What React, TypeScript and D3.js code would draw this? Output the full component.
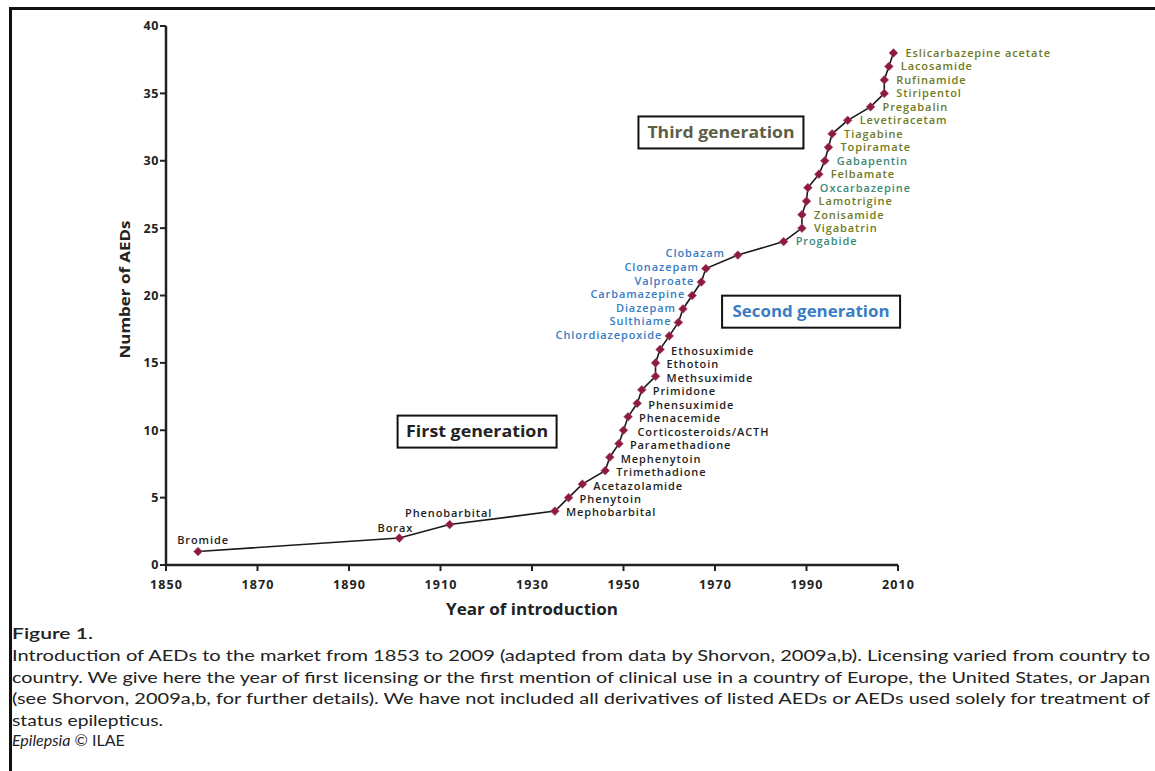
import React from 'react';
import * as d3 from 'd3';

const drugNames = [
  'Bromide', 'Borax', 'Phenobarbital', 'Mephobarbital', 'Phenytoin', 'Acetazolamide',
  'Trimethadione', 'Mephenytoin', 'Paramethadione', 'Corticosteroids/ACTH', 'Phenacemide',
  'Phensuximide', 'Primidone', 'Methsuximide', 'Ethotoin', 'Ethosuximide',
  'Chlordiazepoxide', 'Sulthiame', 'Diazepam', 'Carbamazepine', 'Valproate', 'Clonazepam', 'Clobazam',
  'Progabide', 'Vigabatrin', 'Zonisamide', 'Lamotrigine', 'Oxcarbazepine', 'Felbamate', 'Gabapentin',
  'Topiramate', 'Tiagabine', 'Levetiracetam', 'Pregabalin', 'Stiripentol', 'Rufinamide', 'Lacosamide',
  'Eslicarbazepine acetate',
];
const introYears = [
  1857, 1901, 1912, 1935, 1938, 1941,
  1946, 1947, 1949, 1950, 1951,
  1953, 1954, 1957, 1957, 1958,
  1960, 1962, 1963, 1965, 1967, 1968, 1975,
  1985, 1989, 1989, 1990, 1990.3, 1992.7, 1994,
  1994.8, 1995.6, 1999, 2004, 2007, 2007, 2008,
  2009,
];
const aedCounts = [
  1, 2, 3, 4, 5, 6, 7, 8, 9, 10, 11, 12, 13, 14, 15, 16,
  17, 18, 19, 20, 21, 22, 23,
  24, 25, 26, 27, 28, 29, 30, 31, 32, 33, 34, 35, 36, 37, 38,
];
const generations = [
  1, 1, 1, 1, 1, 1, 1, 1, 1, 1, 1, 1, 1, 1, 1, 1,
  2, 2, 2, 2, 2, 2, 2,
  3, 3, 3, 3, 3, 3, 3, 3, 3, 3, 3, 3, 3, 3, 3,
];
const xTickValues = [1850, 1870, 1890, 1910, 1930, 1950, 1970, 1990, 2010];
const yTickValues = [0, 5, 10, 15, 20, 25, 30, 35, 40];

const genBoxLabels = ['First generation', 'Second generation', 'Third generation'];
const genBoxYears = [1918, 1991, 1971.3];
const genBoxCounts = [9.9, 18.8, 32.1];

const captionTitle = 'Figure 1.';
const captionLines = [
  'Introduction of AEDs to the market from 1853 to 2009 (adapted from data by Shorvon, 2009a,b). Licensing varied from country to',
  'country. We give here the year of first licensing or the first mention of clinical use in a country of Europe, the United States, or Japan',
  '(see Shorvon, 2009a,b, for further details). We have not included all derivatives of listed AEDs or AEDs used solely for treatment of',
  'status epilepticus.',
];

// styling / layout (not data)
const W = 1155;
const H = 771;
const genColors: Record<number, string> = { 1: '#1e1e1e', 2: '#3a7cc4', 3: '#6f7a22' };
const genBoxText: Record<number, string> = { 1: '#222', 2: '#3a7cc4', 3: '#5e5e48' };
const genBoxW = [159, 178, 165];
const genBoxTextW = [142, 157, 147];
const tealNames = new Set(['Progabide', 'Oxcarbazepine', 'Gabapentin']);
const labelFont = "'Open Sans', 'DejaVu Sans', sans-serif";

function labelPlacement(name: string, gen: number) {
  if (name === 'Bromide') return { dx: 5, dy: -11, anchor: 'middle' };
  if (name === 'Borax') return { dx: -4, dy: -10, anchor: 'middle' };
  if (name === 'Phenobarbital') return { dx: -1, dy: -11, anchor: 'middle' };
  if (name === 'Clobazam') return { dx: -13, dy: -2, anchor: 'end' };
  if (gen === 2) return { dx: -7, dy: -1, anchor: 'end' };
  if (name === 'Corticosteroids/ACTH') return { dx: 14, dy: 1.5, anchor: 'start' };
  if (gen === 1) return { dx: 11, dy: 1.5, anchor: 'start' };
  return { dx: 12, dy: 0, anchor: 'start' };
}

export default function App() {
  const x = d3.scaleLinear().domain([1850, 2010]).range([166, 898]);
  const y = d3.scaleLinear().domain([0, 40]).range([565, 26]);

  const pts = introYears.map((yr, i) => ({
    name: drugNames[i],
    year: yr,
    count: aedCounts[i],
    gen: generations[i],
  }));

  const linePath = d3
    .line<{ year: number; count: number }>()
    .x((d) => x(d.year))
    .y((d) => y(d.count))(pts) as string;

  const marker = d3.symbol().type(d3.symbolSquare).size(38)() as string;

  return (
    <svg
      width={W}
      height={H}
      viewBox={`0 0 ${W} ${H}`}
      style={{ position: 'absolute', left: 0, top: 0, background: '#fff' }}
    >
      <rect x={0} y={0} width={W} height={H} fill="#fff" />
      {/* frame */}
      <line x1={10} y1={8.5} x2={W} y2={8.5} stroke="#111" strokeWidth={3} />
      <line x1={10.5} y1={7} x2={10.5} y2={H} stroke="#111" strokeWidth={3} />

      {/* axes */}
      <line x1={x(1850)} y1={y(0)} x2={x(2010)} y2={y(0)} stroke="#222" strokeWidth={2.5} />
      <line x1={x(1850)} y1={y(0) + 1} x2={x(1850)} y2={y(40)} stroke="#222" strokeWidth={2.5} />
      {yTickValues.map((v) => (
        <g key={'yt' + v}>
          <line x1={x(1850) - 6} x2={x(1850)} y1={y(v)} y2={y(v)} stroke="#222" strokeWidth={2} />
          <text
            x={x(1850) - 7}
            y={y(v)}
            dy="0.35em"
            textAnchor="end"
            fontFamily={labelFont}
            fontWeight={700}
            fontSize={12.5}
            letterSpacing={0.6}
            fill="#222"
          >
            {v}
          </text>
        </g>
      ))}
      {xTickValues.map((v) => (
        <g key={'xt' + v}>
          <line x1={x(v)} x2={x(v)} y1={y(0)} y2={y(0) + 6} stroke="#222" strokeWidth={2} />
          <text
            x={x(v)}
            y={y(0) + 24}
            textAnchor="middle"
            fontFamily={labelFont}
            fontWeight={700}
            fontSize={12.5}
            textLength={32}
            lengthAdjust="spacing"
            fill="#222"
          >
            {v}
          </text>
        </g>
      ))}
      <text
        x={(x(1850) + x(2010)) / 2}
        y={615}
        textAnchor="middle"
        fontFamily={labelFont}
        fontWeight={700}
        fontSize={16}
        fill="#222"
        textLength={172}
        lengthAdjust="spacingAndGlyphs"
      >
        Year of introduction
      </text>
      <text
        transform={`translate(130, ${(y(0) + y(40)) / 2 - 6}) rotate(-90)`}
        textAnchor="middle"
        fontFamily={labelFont}
        fontWeight={700}
        fontSize={15}
        fill="#222"
        textLength={138}
        lengthAdjust="spacingAndGlyphs"
      >
        Number of AEDs
      </text>

      {/* generation boxes */}
      {genBoxLabels.map((lab, i) => {
        const cx = x(genBoxYears[i]);
        const cy = y(genBoxCounts[i]);
        return (
          <g key={lab}>
            <rect
              x={cx - genBoxW[i] / 2}
              y={cy - 16}
              width={genBoxW[i]}
              height={32}
              fill="#fff"
              stroke="#111"
              strokeWidth={2}
            />
            <text
              x={cx}
              y={cy}
              dy="0.36em"
              textAnchor="middle"
              fontFamily={labelFont}
              fontWeight={700}
              fontSize={16}
              fill={genBoxText[i + 1]}
              textLength={genBoxTextW[i]}
              lengthAdjust="spacingAndGlyphs"
            >
              {lab}
            </text>
          </g>
        );
      })}

      {/* line */}
      <path d={linePath} fill="none" stroke="#1a1a1a" strokeWidth={1.6} />
      {pts.map((p, i) => (
        <path
          key={'m' + i}
          d={marker}
          transform={`translate(${x(p.year)},${y(p.count)}) rotate(45)`}
          fill="#8c1a42"
          stroke="#b0506e"
          strokeWidth={0.6}
        />
      ))}

      {/* drug labels */}
      {pts.map((p, i) => {
        const pl = labelPlacement(p.name, p.gen);
        const color = tealNames.has(p.name) ? '#3d8a78' : genColors[p.gen];
        return (
          <text
            key={'l' + i}
            x={x(p.year) + pl.dx}
            y={y(p.count) + pl.dy}
            dy="0.35em"
            textAnchor={pl.anchor as any}
            fontFamily={labelFont}
            fontWeight={600}
            fontSize={11}
            letterSpacing={0.9}
            fill={color}
          >
            {p.name}
          </text>
        );
      })}

      {/* caption */}
      <text
        x={12}
        y={639}
        fontFamily="Lato, 'Open Sans', sans-serif"
        fontSize={16}
        fontWeight={600}
        fill="#222"
        textLength={81}
        lengthAdjust="spacingAndGlyphs"
      >
        {captionTitle}
      </text>
      {captionLines.map((ln, i) => (
        <text
          key={'c' + i}
          x={12}
          y={661 + i * 21.5}
          fontFamily="Lato, 'Open Sans', sans-serif"
          fontSize={16}
          fill="#222"
          textLength={i < 3 ? 1138 : 151}
          lengthAdjust="spacingAndGlyphs"
        >
          {ln}
        </text>
      ))}
      <text x={12} y={746} fontFamily="Lato, 'Open Sans', sans-serif" fontSize={16} fill="#222">
        <tspan fontStyle="italic">Epilepsia</tspan>
        <tspan> © ILAE</tspan>
      </text>
    </svg>
  );
}
